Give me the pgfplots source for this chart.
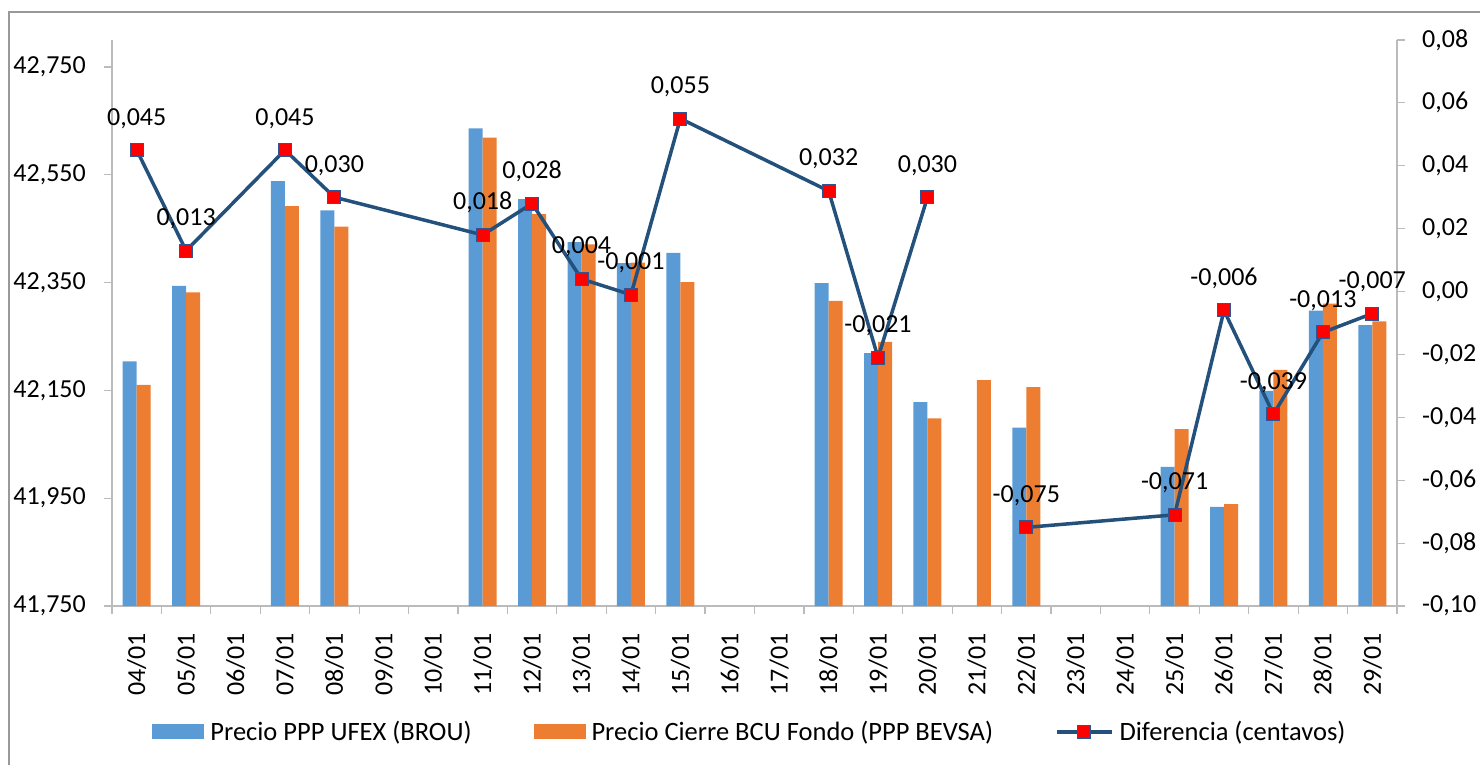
\documentclass[border=0pt]{standalone}
\usepackage{pgfplots}
\pgfplotsset{compat=1.18}
\usepackage{fontspec}
\setmainfont{Carlito}
\definecolor{cblue}{HTML}{5B9BD5}
\definecolor{corange}{HTML}{ED7D31}
\definecolor{clinecol}{HTML}{24507C}
\definecolor{cmarkborder}{HTML}{2F5597}
\definecolor{caxis}{HTML}{BBBBBB}
\definecolor{cborder}{HTML}{999999}
\newcommand{\bigf}{\fontsize{26bp}{31bp}\selectfont}
\pgfplotsset{
  barleg/.style={legend image code/.code={\fill[##1] (0bp,-7.5bp) rectangle (52bp,7.5bp);}},
  lineleg/.style={legend image code/.code={\draw[mark repeat=2,mark phase=2,##1] plot coordinates {(0bp,0bp) (27.5bp,0bp) (55bp,0bp)};}},
}
\begin{document}
\begin{tikzpicture}[font=\bigf]
\path[use as bounding box] (-112bp,-159bp) rectangle (1368bp,606bp);
\draw[cborder, line width=1.2bp] (-103bp,-170bp) -- (-103bp,594bp) -- (1380bp,594bp);
\begin{axis}[
  at={(0,0)}, anchor=south west,
  scale only axis, width=1285bp, height=566bp,
  xmin=-0.5, xmax=25.5, ymin=41.75, ymax=42.8,
  axis x line*=bottom, axis y line*=left,
  axis line style={draw=caxis, line width=1.2bp, -},
  tick align=outside,
  major tick length=8bp,
  tick style={draw=caxis, line width=1.2bp},
  tick label style={font=\bigf},
  ytick={41.75,41.95,42.15,42.35,42.55,42.75},
  yticklabels={{41,750},{41,950},{42,150},{42,350},{42,550},{42,750}},
  yticklabel style={anchor=east, inner sep=0pt, xshift=-18bp},
  xtick={-0.5,0.5,...,25.5},
  xticklabels={},
  extra x ticks={0,1,...,25},
  extra x tick labels={04/01,05/01,06/01,07/01,08/01,09/01,10/01,11/01,12/01,13/01,14/01,15/01,16/01,17/01,18/01,19/01,20/01,21/01,22/01,23/01,24/01,25/01,26/01,27/01,28/01,29/01},
  extra x tick style={major tick length=0pt, tick label style={yshift=-27bp, rotate=90, anchor=east, inner sep=0pt, font=\bigf}},
  ybar=0pt, bar width=14bp,
]
\addplot[fill=cblue, draw=none] table {
x y
0 42.204
1 42.344
3 42.538
4 42.484
7 42.636
8 42.505
9 42.425
10 42.386
11 42.405
14 42.349
15 42.219
16 42.128
18 42.081
21 42.008
22 41.934
23 42.149
24 42.298
25 42.271
};
\addplot[fill=corange, draw=none] table {
x y
0 42.160
1 42.332
3 42.492
4 42.454
7 42.619
8 42.477
9 42.421
10 42.387
11 42.351
14 42.316
15 42.240
16 42.098
17 42.169
18 42.156
21 42.078
22 41.939
23 42.188
24 42.311
25 42.278
};
\end{axis}
\begin{axis}[
  at={(0,0)}, anchor=south west,
  scale only axis, width=1285bp, height=566bp,
  xmin=-0.5, xmax=25.5, ymin=-0.1, ymax=0.08,
  axis x line=none, axis y line*=right,
  axis line style={draw=caxis, line width=1.2bp, -},
  tick align=outside,
  major tick length=8bp,
  tick style={draw=caxis, line width=1.2bp},
  tick label style={font=\bigf},
  ytick={-0.1,-0.08,-0.06,-0.04,-0.02,0,0.02,0.04,0.06,0.08},
  yticklabels={{-0,10},{-0,08},{-0,06},{-0,04},{-0,02},{0,00},{0,02},{0,04},{0,06},{0,08}},
  yticklabel style={anchor=west, inner sep=0pt, xshift=17bp},
  unbounded coords=jump,
  clip=false,
  legend columns=3,
  legend style={at={(0.4957,-0.2226)}, anchor=center, draw=none, fill=none,
    font=\fontsize{26.5bp}{31bp}\selectfont,
    nodes={inner sep=0bp}, column sep=6bp,
    /tikz/every even column/.append style={column sep=62bp}},
  legend cell align=left,
]
\addlegendimage{fill=cblue, draw=none, barleg}
\addlegendentry{Precio PPP UFEX (BROU)}
\addlegendimage{fill=corange, draw=none, barleg}
\addlegendentry{Precio Cierre BCU Fondo (PPP BEVSA)}
\addplot[color=clinecol, line width=3.5bp, mark=square*, mark size=6.5bp,
  mark options={fill=red, draw=cmarkborder, line width=1bp},
  nodes near coords, point meta=explicit symbolic,
  every node near coord/.append style={anchor=base, inner sep=0pt, yshift=25bp, text=black, font=\bigf},
  lineleg
] table[meta=lab] {
x y lab
0 0.045 0,045
1 0.013 0,013
3 0.045 0,045
4 0.030 0,030
7 0.018 0,018
8 0.028 0,028
9 0.004 0,004
10 -0.001 -0,001
11 0.055 0,055
14 0.032 0,032
15 -0.021 -0,021
16 0.030 0,030
17 nan nan
18 -0.075 -0,075
21 -0.071 -0,071
22 -0.006 -0,006
23 -0.039 -0,039
24 -0.013 -0,013
25 -0.007 -0,007
};
\addlegendentry{Diferencia (centavos)}
\end{axis}
\end{tikzpicture}
\end{document}
